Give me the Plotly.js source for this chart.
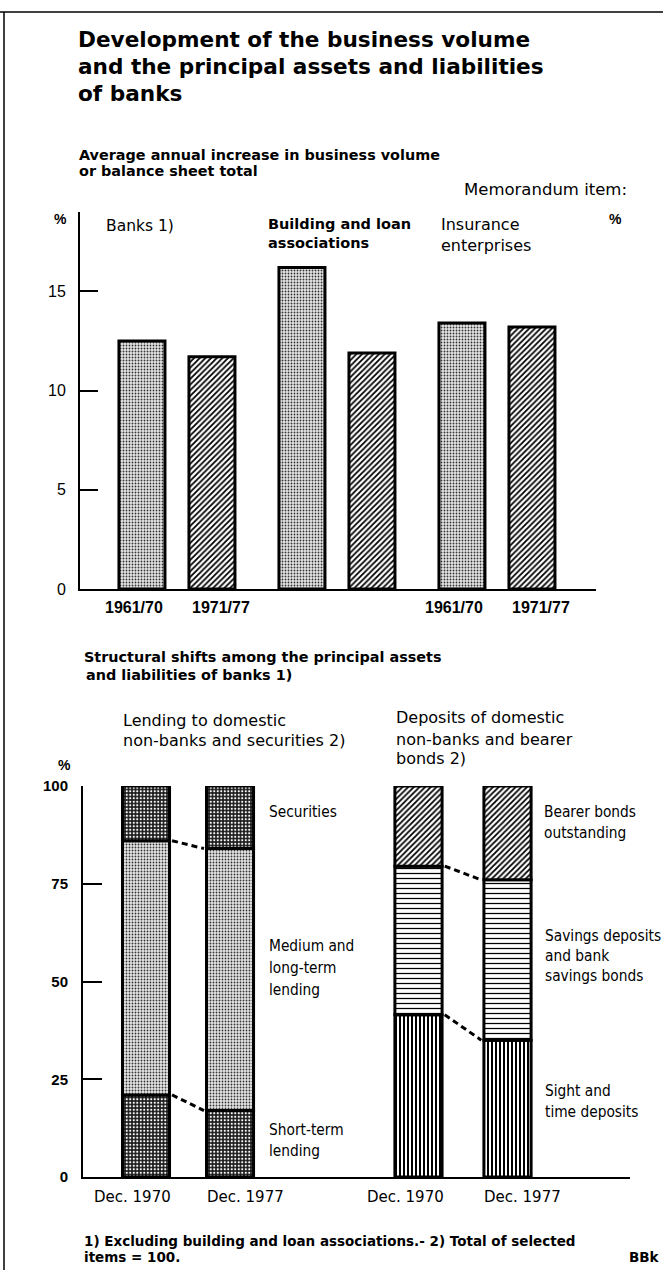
<!DOCTYPE html>
<html><head><meta charset="utf-8">
<script src="https://cdn.plot.ly/plotly-3.0.1.min.js"></script>
<style>html,body{margin:0;padding:0;background:#fff}#chart{width:663px;height:1270px}</style>
</head><body><div id="chart"></div>
<script>
// ---------- data: upper chart ----------
const institutions = ["Banks 1)", "Building and loan associations", "Insurance enterprises"];
const periods = ["1961/70", "1971/77"];
const growth6170 = [12.5, 16.2, 13.4];
const growth7177 = [11.7, 11.9, 13.2];
const topTicks = [0, 5, 10, 15];

// ---------- data: lower chart ----------
const dates = ["Dec. 1970", "Dec. 1977"];
const lendingShort = [21, 17];
const lendingMedium = [65, 67];
const lendingSecurities = [14, 16];
const depositsSight = [41.5, 35];
const depositsSavings = [38, 41];
const depositsBearer = [20.5, 24];
const bottomTicks = [0, 25, 50, 75, 100];

// ---------- helpers ----------
const W = 663, H = 1270;
const px = x => x / W;
const py = y => 1 - y / H;
const F = "DejaVu Sans, sans-serif";
const FA = "Liberation Sans, Arial, sans-serif";
const FN = "DejaVu Sans Condensed, Liberation Sans Narrow, sans-serif";

const patLight = {shape: ".", fgcolor: "#333", bgcolor: "#e6e6e6", size: 3, solidity: 0.3, fillmode: "replace"};
const patDark = {shape: ".", fgcolor: "#ffffff", bgcolor: "#1a1a1a", size: 3.5, solidity: 0.3, fillmode: "replace"};
const patHatch = {shape: "/", fgcolor: "#000", bgcolor: "#fff", size: 4, solidity: 0.45, fillmode: "replace"};
const patHoriz = {shape: "-", fgcolor: "#000", bgcolor: "#fff", size: 5, solidity: 0.25, fillmode: "replace"};
const patVert = {shape: "|", fgcolor: "#000", bgcolor: "#fff", size: 4, solidity: 0.5, fillmode: "replace"};
const outline = {color: "#000", width: 3};

const traces = [];
const idx = institutions.map((_, i) => i);

// upper chart bars (two periods per group)
const topW = 0.2875, topHalf = 0.21875;
traces.push({type: "bar", x: idx, y: growth6170, width: topW, offset: -topHalf - topW / 2,
  marker: {color: "#e6e6e6", pattern: patLight, line: outline}, xaxis: "x", yaxis: "y",
  hoverinfo: "skip", showlegend: false});
traces.push({type: "bar", x: idx, y: growth7177, width: topW, offset: topHalf - topW / 2,
  marker: {color: "#fff", pattern: patHatch, line: outline}, xaxis: "x", yaxis: "y",
  hoverinfo: "skip", showlegend: false});

// lower charts: stacked via base
function stack(series, pats, xa, w) {
  const xi = dates.map((_, i) => i);
  let base = dates.map(() => 0);
  const bounds = [];
  series.forEach((s, k) => {
    traces.push({type: "bar", x: xi, y: s, base: base.slice(), width: w,
      marker: {color: pats[k].bgcolor, pattern: pats[k], line: outline},
      xaxis: xa, yaxis: "y3", hoverinfo: "skip", showlegend: false});
    base = base.map((b, i) => b + s[i]);
    if (k < series.length - 1) bounds.push(base.slice());
  });
  bounds.forEach(b => {
    traces.push({type: "scatter", mode: "lines", x: [0 + w / 2 + 0.03, 1 - w / 2 - 0.03], y: b,
      line: {color: "#000", width: 3, dash: "6px,4px"}, xaxis: xa, yaxis: "y3",
      hoverinfo: "skip", showlegend: false});
  });
}
stack([lendingShort, lendingMedium, lendingSecurities], [patDark, patLight, patDark], "x2", 0.56);
stack([depositsSight, depositsSavings, depositsBearer], [patVert, patHoriz, patHatch], "x3", 0.53);

// ---------- annotations ----------
const ann = [];
function A(text, x, y, font, extra) {
  ann.push(Object.assign({text: text, x: px(x), y: py(y), xref: "paper", yref: "paper",
    xanchor: "left", yanchor: "middle", showarrow: false, font: Object.assign({color: "#000"}, font)}, extra || {}));
}
const tBold = {family: F, size: 21.6};
A("<b>Development of the business volume</b>", 76, 40, tBold);
A("<b>and the principal assets and liabilities</b>", 76, 66, tBold);
A("<b>of banks</b>", 76, 93, tBold);
const sBold = {family: F, size: 14.4};
A("<b>Average annual increase in business volume</b>", 77, 155, sBold);
A("<b>or balance sheet total</b>", 77, 171, sBold);
A("Memorandum item:", 462, 190, {family: F, size: 16.5});
A("<b>%</b>", 52, 219, {family: FA, size: 14});
A("<b>%</b>", 607, 219, {family: FA, size: 14});
A("Banks 1)", 104, 226, {family: F, size: 15.5});
A("<b>Building and loan</b>", 266, 224, {family: F, size: 14.5});
A("<b>associations</b>", 266, 243, {family: F, size: 14.5});
A("Insurance", 439, 224, {family: F, size: 16});
A("enterprises", 439, 245, {family: F, size: 16});

// period labels under upper bars
[0, 2].forEach(g => {
  periods.forEach((p, j) => {
    ann.push({text: "<b>" + p + "</b>", x: g + (j === 0 ? -topHalf : topHalf), y: py(607), xref: "x", yref: "paper",
      xanchor: "center", yanchor: "middle", showarrow: false, xshift: j === 0 ? -8 : 9,
      font: {family: FA, size: 16, color: "#000"}});
  });
});

A("<b>Structural shifts among the principal assets</b>", 82, 657, sBold);
A("<b>and liabilities of banks 1)</b>", 84, 675, sBold);
A("Lending to domestic", 121, 720, {family: F, size: 16});
A("non-banks and securities 2)", 121, 740, {family: F, size: 16});
A("Deposits of domestic", 394, 718, {family: F, size: 16});
A("non-banks and bearer", 394, 739, {family: F, size: 16});
A("bonds 2)", 394, 758, {family: F, size: 16});
A("<b>%</b>", 56, 765, {family: FA, size: 14});

const nf = {family: FN, size: 15.3};
A("Securities", 267, 812, nf);
A("Medium and", 267, 946, nf);
A("long-term", 267, 968, nf);
A("lending", 267, 990, nf);
A("Short-term", 267, 1130, nf);
A("lending", 267, 1151, nf);
A("Bearer bonds", 542, 812, nf);
A("outstanding", 542, 833, nf);
A("Savings deposits", 543, 936, nf);
A("and bank", 543, 956, nf);
A("savings bonds", 543, 976, nf);
A("Sight and", 543, 1091, nf);
A("time deposits", 543, 1112, nf);

// date labels under lower bars
[["x2", [-14, 15]], ["x3", [-13, 15]]].forEach(([xa, sh]) => {
  dates.forEach((d, i) => {
    ann.push({text: d, x: i, y: py(1197), xref: xa, yref: "paper", xanchor: "center", yanchor: "middle",
      showarrow: false, xshift: sh[i], font: {family: F, size: 15, color: "#000"}});
  });
});

const fBold = {family: F, size: 13.5};
A("<b>1) Excluding building and loan associations.- 2) Total of selected</b>", 82, 1241, fBold);
A("<b>items = 100.</b>", 82, 1257, fBold);
A("<b>BBk</b>", 627, 1257, {family: F, size: 13.5});

// ---------- layout ----------
const axLine = {showline: true, linecolor: "#000", linewidth: 2, showgrid: false, zeroline: false};
const layout = {
  width: W, height: H, margin: {l: 0, r: 0, t: 0, b: 0},
  paper_bgcolor: "#fff", plot_bgcolor: "rgba(0,0,0,0)",
  barmode: "overlay", showlegend: false,
  xaxis: Object.assign({domain: [px(80), px(596)], range: [-0.606, 2.619], anchor: "y",
    showticklabels: false, ticks: ""}, axLine),
  yaxis: Object.assign({domain: [py(589), py(212)], range: [0, 19], anchor: "x",
    ticks: "inside", ticklen: 18, tickwidth: 2, tickcolor: "#000", tickvals: topTicks,
    ticklabelstandoff: 9, tickfont: {family: FA, size: 16, color: "#000"}}, axLine),
  yaxis2: Object.assign({overlaying: "y", side: "right", range: [0, 19], anchor: "x",
    ticks: "inside", ticklen: 18, tickwidth: 2, tickcolor: "#000", tickvals: topTicks,
    ticklabelstandoff: 9, tickfont: {family: FA, size: 16, color: "#000"}}, axLine),
  xaxis2: Object.assign({domain: [px(83), px(330)], range: [-0.75, 2.19], anchor: "y3",
    showticklabels: false, ticks: ""}, axLine),
  xaxis3: Object.assign({domain: [px(330), px(630)], range: [-0.994, 2.376], anchor: "y3",
    showticklabels: false, ticks: ""}, axLine),
  yaxis3: Object.assign({domain: [py(1177), py(786)], range: [0, 100], anchor: "x2",
    ticks: "inside", ticklen: 19, tickwidth: 2, tickcolor: "#000", tickvals: bottomTicks,
    ticklabelstandoff: 10, tickfont: {family: FA, size: 15, color: "#000", weight: "bold"}}, axLine),
  annotations: ann,
  shapes: [
    {type: "line", xref: "paper", yref: "paper", x0: px(4), x1: px(4), y0: py(12), y1: 0, line: {color: "#000", width: 1.5}},
    {type: "line", xref: "paper", yref: "paper", x0: 0, x1: 1, y0: py(12), y1: py(12), line: {color: "#000", width: 1.5}}
  ]
};
Plotly.newPlot("chart", traces, layout, {staticPlot: true, displayModeBar: false});
</script></body></html>
